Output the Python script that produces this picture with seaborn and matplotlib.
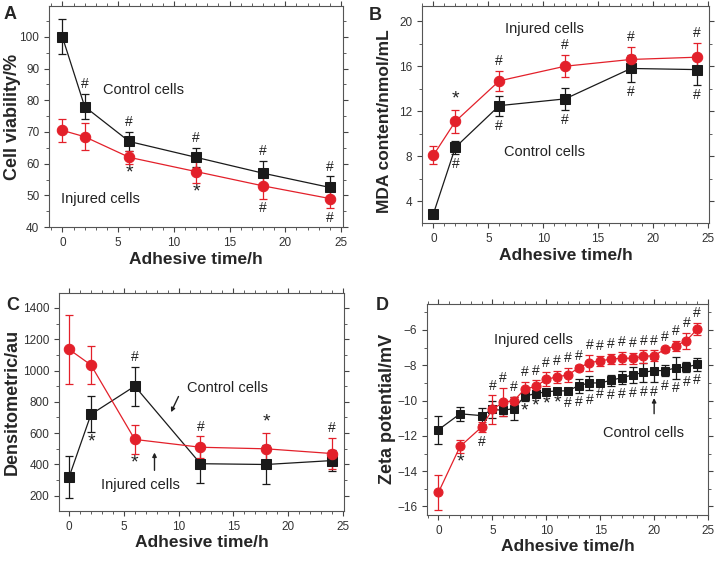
import matplotlib
matplotlib.use("Agg")
import matplotlib.pyplot as plt
import pandas as pd
import seaborn as sns
from matplotlib.ticker import MultipleLocator

RED = "#e3202a"
BLACK = "#1a1a1a"

# ---- panel A: cell viability ----
time_a = [0, 2, 6, 12, 18, 24]
ctrl_a = [100, 78, 67, 62, 57, 52.5]
ctrl_a_err = [5.5, 4, 3, 3, 4, 3.5]
inj_a = [70.5, 68.5, 62, 57.5, 53, 49]
inj_a_err = [3.7, 4.2, 2, 3.5, 4, 3]

# ---- panel B: MDA content ----
time_b = [0, 2, 6, 12, 18, 24]
ctrl_b = [2.9, 8.8, 12.5, 13.1, 15.8, 15.7]
ctrl_b_err = [0.2, 0.6, 0.9, 1.0, 1.2, 1.4]
inj_b = [8.1, 11.1, 14.7, 16.0, 16.6, 16.8]
inj_b_err = [0.8, 1.0, 0.9, 1.0, 1.1, 1.3]

# ---- panel C: densitometric ----
time_c = [0, 2, 6, 12, 18, 24]
ctrl_c = [320, 720, 900, 405, 400, 425]
ctrl_c_err = [135, 115, 125, 125, 125, 65]
inj_c = [1135, 1035, 560, 510, 500, 470]
inj_c_err = [220, 120, 90, 70, 100, 100]

# ---- panel D: zeta potential ----
time_d = [0, 2, 4, 5, 6, 7, 8, 9, 10, 11, 12, 13, 14, 15, 16, 17, 18, 19, 20, 21, 22, 23, 24]
ctrl_d = [-11.65, -10.75, -10.85, -10.5, -10.55, -10.45, -9.75, -9.6, -9.5, -9.45, -9.45, -9.15,
          -9.0, -9.0, -8.85, -8.7, -8.55, -8.4, -8.3, -8.3, -8.15, -8.1, -7.95]
ctrl_d_err = [0.8, 0.4, 0.45, 0.5, 0.3, 0.65, 0.3, 0.2, 0.15, 0.15, 0.15, 0.4,
              0.4, 0.1, 0.3, 0.35, 0.45, 0.55, 0.65, 0.3, 0.6, 0.3, 0.35]
inj_d = [-15.2, -12.6, -11.5, -10.5, -10.1, -10.0, -9.35, -9.2, -8.8, -8.65, -8.55, -8.15,
         -7.85, -7.75, -7.65, -7.6, -7.6, -7.5, -7.45, -7.1, -6.9, -6.6, -5.95]
inj_d_err = [1.0, 0.35, 0.3, 0.8, 0.8, 0.2, 0.4, 0.35, 0.4, 0.35, 0.4, 0.15,
             0.45, 0.3, 0.3, 0.35, 0.3, 0.35, 0.3, 0.15, 0.3, 0.45, 0.35]

# significance marks: (times, symbol, side)
marks_a = {
    "ctrl": [([2, 6, 12, 18, 24], "#", "above")],
    "inj": [([6, 12], "*", "below"), ([18, 24], "#", "below")],
}
marks_b = {
    "ctrl": [([2, 6, 12, 18, 24], "#", "below")],
    "inj": [([2], "*", "above"), ([6, 12, 18, 24], "#", "above")],
}
marks_c = {
    "ctrl": [([6], "#", "above"), ([2], "*", "below")],
    "inj": [([12, 24], "#", "above"), ([18], "*", "above"), ([6], "*", "below")],
}
marks_d = {
    "ctrl": [([8, 9, 10, 11], "*", "below"), (list(range(12, 25)), "#", "below")],
    "inj": [(list(range(5, 25)), "#", "above"), ([2], "*", "below"), ([4], "#", "below")],
}

sns.set_theme(style="ticks")
plt.rcParams["font.family"] = ["Liberation Sans", "DejaVu Sans"]
plt.rcParams["axes.linewidth"] = 0.8


def draw_series(ax, t, y, err, color, marker, ms):
    ax.errorbar(t, y, yerr=err, fmt="none", ecolor=color, elinewidth=0.9,
                capsize=2.8, capthick=0.9, zorder=2)
    df = pd.DataFrame({"t": t, "y": y})
    sns.lineplot(data=df, x="t", y="y", ax=ax, color=color, marker=marker,
                 markersize=ms, markeredgecolor=color, linewidth=0.9, zorder=3)


def add_marks(ax, t, y, err, marks, fs=10):
    for times, sym, side in marks:
        for x in times:
            i = t.index(x)
            if side == "above":
                pos, off, va = y[i] + err[i], 2, "bottom"
            else:
                pos, off, va = y[i] - err[i], -2 if sym == "#" else -0.5, "top"
            ax.annotate(sym, (x, pos), xytext=(0, off), textcoords="offset points",
                        ha="center", va=va, fontsize=fs if sym == "#" else fs + 4,
                        color="#222222", zorder=4)


def style_axes(ax, xlim, ylim, ymajor, yminor, ylabel, label_xy, label_fs):
    ax.set_xlim(*xlim)
    ax.set_ylim(*ylim)
    ax.xaxis.set_major_locator(MultipleLocator(5))
    ax.xaxis.set_minor_locator(MultipleLocator(1))
    ax.yaxis.set_major_locator(MultipleLocator(ymajor))
    ax.yaxis.set_minor_locator(MultipleLocator(yminor))
    ax.tick_params(which="both", direction="out", top=True, right=True,
                   labelsize=8.5, colors="#444444", labelcolor="#333333")
    ax.tick_params(which="major", length=3.5, width=0.8)
    ax.tick_params(which="minor", length=2, width=0.6)
    for s in ax.spines.values():
        s.set_visible(True)
        s.set_color("#555555")
    ax.set_xlabel("Adhesive time/h", fontsize=12.5, fontweight="bold", labelpad=2)
    ax.set_ylabel(ylabel, fontsize=label_fs, fontweight="bold")
    ax.yaxis.set_label_coords(*label_xy)


fig = plt.figure(figsize=(7.21, 5.62), dpi=100)

panels = [
    ("A", [0.068, 0.596, 0.408, 0.393], time_a, ctrl_a, ctrl_a_err, inj_a, inj_a_err, marks_a,
     (-1.2, 25.2), (40, 109.7), 10, 5, "Cell viability/%", (-0.095, 0.5), 13),
    ("B", [0.585, 0.603, 0.399, 0.386], time_b, ctrl_b, ctrl_b_err, inj_b, inj_b_err, marks_b,
     (-1.06, 25.15), (2.07, 21.33), 4, 2, "MDA content/nmol/mL", (-0.104, 0.47), 12.5),
    ("C", [0.082, 0.091, 0.395, 0.388], time_c, ctrl_c, ctrl_c_err, inj_c, inj_c_err, marks_c,
     (-0.91, 25.1), (104, 1496), 200, 100, "Densitometric/au", (-0.133, 0.5), 13),
    ("D", [0.592, 0.084, 0.390, 0.375], time_d, ctrl_d, ctrl_d_err, inj_d, inj_d_err, marks_d,
     (-1.08, 25.0), (-16.47, -4.53), 2, 1, "Zeta potential/mV", (-0.11, 0.5), 13),
]

marker_sizes = {"A": (6.5, 7.5), "B": (6.5, 7.5), "C": (6.5, 7.5), "D": (5.2, 6.5)}

axes = {}
for (name, rect, t, c, ce, inj, ie, marks, xlim, ylim, ymaj, ymin, ylab, lxy, lfs) in panels:
    ax = fig.add_axes(rect)
    sq, ci = marker_sizes[name]
    draw_series(ax, t, c, ce, BLACK, "s", sq)
    draw_series(ax, t, inj, ie, RED, "o", ci)
    add_marks(ax, t, c, ce, marks["ctrl"])
    add_marks(ax, t, inj, ie, marks["inj"])
    style_axes(ax, xlim, ylim, ymaj, ymin, ylab, lxy, lfs)
    axes[name] = ax

txt = dict(fontsize=10.5, color="#222222", ha="center", va="center")
axes["A"].text(7.25, 83.2, "Control cells", **txt)
axes["A"].text(3.4, 48.7, "Injured cells", **txt)
axes["B"].text(10.1, 19.26, "Injured cells", **txt)
axes["B"].text(10.1, 8.4, "Control cells", **txt)
axes["C"].text(14.5, 888, "Control cells", **txt)
axes["C"].text(6.5, 270, "Injured cells", **txt)
axes["D"].text(8.8, -6.57, "Injured cells", **txt)
axes["D"].text(19.0, -11.85, "Control cells", **txt)

arrow = dict(arrowstyle="-|>", color="#222222", lw=1, mutation_scale=6)
axes["C"].annotate("", xy=(9.2, 718), xytext=(10.1, 850), arrowprops=arrow)
axes["C"].annotate("", xy=(7.8, 494), xytext=(7.8, 345), arrowprops=arrow)
axes["D"].annotate("", xy=(20, -9.7), xytext=(20, -10.9), arrowprops=arrow)

for label, x, y in [("A", 0.014, 0.975), ("B", 0.52, 0.972), ("C", 0.017, 0.457), ("D", 0.53, 0.457)]:
    fig.text(x, y, label, fontsize=13, fontweight="bold", ha="center", va="center")

fig.savefig("out.png", dpi=100)
